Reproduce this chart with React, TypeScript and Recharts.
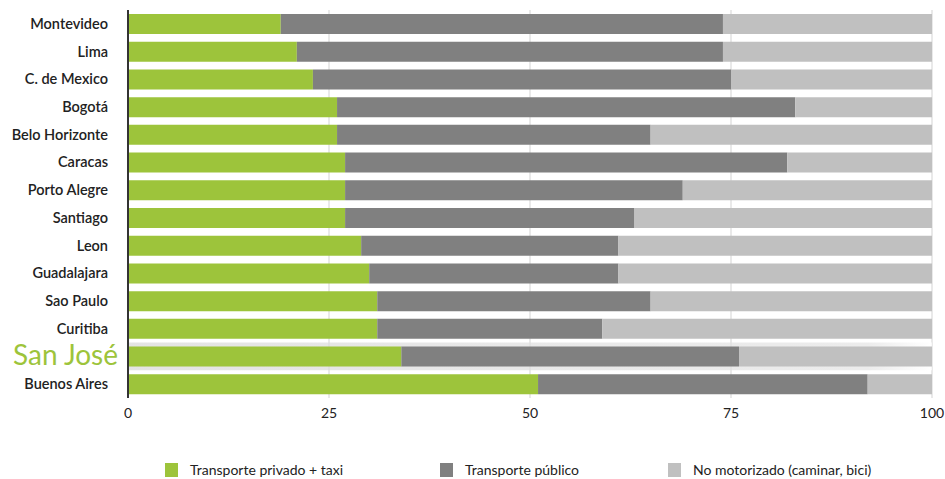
import * as React from "react";
import { BarChart, Bar, XAxis, YAxis, CartesianGrid, ReferenceArea } from "recharts";

const cities = [
  "Montevideo",
  "Lima",
  "C. de Mexico",
  "Bogotá",
  "Belo Horizonte",
  "Caracas",
  "Porto Alegre",
  "Santiago",
  "Leon",
  "Guadalajara",
  "Sao Paulo",
  "Curitiba",
  "San José",
  "Buenos Aires",
];
const privado = [19, 21, 23, 26, 26, 27, 27, 27, 29, 30, 31, 31, 34, 51];
const publico = [55, 53, 52, 57, 39, 55, 42, 36, 32, 31, 34, 28, 42, 41];
const noMotorizado = [26, 26, 25, 17, 35, 18, 31, 37, 39, 39, 35, 41, 24, 8];
const xTicks = [0, 25, 50, 75, 100];

const SERIES = [
  { key: "privado", label: "Transporte privado + taxi", color: "#9dc43b" },
  { key: "publico", label: "Transporte público", color: "#808080" },
  { key: "noMotorizado", label: "No motorizado (caminar, bici)", color: "#c0c0c0" },
];

const HIGHLIGHT = "San José";
const FONT = "Lato, 'Open Sans', sans-serif";

const data = cities.map((city, i) => ({
  city,
  privado: privado[i],
  publico: publico[i],
  noMotorizado: noMotorizado[i],
}));

function CityTick(props: any) {
  const { x, y, payload } = props;
  const isHighlight = payload.value === HIGHLIGHT;
  if (isHighlight) {
    return (
      <text x={x + 10} y={y} dy={9} textAnchor="end" fill="#9dc43b" fontSize={28} fontFamily={FONT}>
        {payload.value}
      </text>
    );
  }
  return (
    <text x={x} y={y} dy={5} textAnchor="end" fill="#222" fontSize={14.5} fontFamily={FONT} fontWeight={600}>
      {payload.value}
    </text>
  );
}

export default function App() {
  return (
    <div style={{ position: "absolute", left: 0, top: 0, width: 945, height: 479, background: "#fff", fontFamily: FONT }}>
      <BarChart
        width={945}
        height={430}
        data={data}
        layout="vertical"
        margin={{ top: 10, right: 13, left: 0, bottom: 0 }}
        barSize={20}
      >
        <defs>
          <linearGradient id="hlShade" x1="0" y1="0" x2="1" y2="0">
            <stop offset="0%" stopColor="#d8d8d8" />
            <stop offset="92%" stopColor="#e4e4e4" />
            <stop offset="100%" stopColor="#ffffff" />
          </linearGradient>
        </defs>
        <CartesianGrid horizontal={false} vertical={true} stroke="#e2e2e2" strokeWidth={1.5} />
        <ReferenceArea y1={HIGHLIGHT} y2={HIGHLIGHT} fill="url(#hlShade)" fillOpacity={0.7} stroke="none" />
        <XAxis
          type="number"
          domain={[0, 100]}
          ticks={xTicks}
          axisLine={false}
          tickLine={false}
          tickSize={0}
          tickMargin={10}
          height={32}
          tick={{ fill: "#222", fontSize: 14, fontFamily: FONT }}
        />
        <YAxis
          type="category"
          dataKey="city"
          width={128}
          axisLine={{ stroke: "#333", strokeWidth: 2 }}
          tickLine={false}
          tickSize={0}
          tickMargin={20}
          interval={0}
          tick={<CityTick />}
        />
        {SERIES.map((s) => (
          <Bar key={s.key} dataKey={s.key} stackId="a" fill={s.color} isAnimationActive={false} />
        ))}
      </BarChart>
      <div style={{ position: "absolute", top: 461, left: 0, width: 945, height: 18 }}>
        {SERIES.map((s, i) => (
          <div
            key={s.key}
            style={{
              position: "absolute",
              left: [165, 440, 668][i],
              top: 0,
              display: "flex",
              alignItems: "center",
              gap: 12,
              fontSize: 14,
              color: "#222",
              whiteSpace: "nowrap",
            }}
          >
            <span style={{ display: "inline-block", width: 13, height: 14, background: s.color }} />
            <span>{s.label}</span>
          </div>
        ))}
      </div>
    </div>
  );
}
